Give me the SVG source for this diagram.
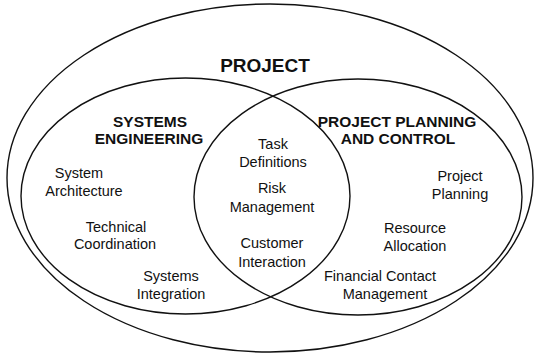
<svg xmlns="http://www.w3.org/2000/svg" width="537" height="355" viewBox="0 0 537 355">
<style>
.shape{fill:none;stroke:#111;stroke-width:1.4}
.h{font-family:"Liberation Sans",Arial,sans-serif;font-weight:bold;font-size:15.5px;fill:#111;text-anchor:middle}
.t{font-family:"Liberation Sans",Arial,sans-serif;font-size:14.5px;fill:#111;text-anchor:middle}
</style>
<rect width="537" height="355" fill="#fff"/>
<g id="project">
<ellipse class="shape" cx="270" cy="178" rx="263" ry="174" stroke-width="1.8"/>
<text class="h" x="265" y="72" style="font-size:19px">PROJECT</text>
</g>
<g id="systems-engineering">
<ellipse class="shape" cx="185.5" cy="196" rx="164.5" ry="118"/>
<text class="h" x="150" y="127">SYSTEMS</text>
<text class="h" x="149" y="144">ENGINEERING</text>
<text class="t" x="79" y="178">System</text>
<text class="t" x="84" y="196">Architecture</text>
<text class="t" x="116" y="232">Technical</text>
<text class="t" x="115" y="249">Coordination</text>
<text class="t" x="171" y="281">Systems</text>
<text class="t" x="171" y="299">Integration</text>
</g>
<g id="project-planning">
<ellipse class="shape" cx="358" cy="197" rx="164" ry="118"/>
<text class="h" x="397" y="127">PROJECT PLANNING</text>
<text class="h" x="398" y="144">AND CONTROL</text>
<text class="t" x="460" y="181">Project</text>
<text class="t" x="460" y="199">Planning</text>
<text class="t" x="415" y="233">Resource</text>
<text class="t" x="415" y="251">Allocation</text>
<text class="t" x="380" y="281">Financial Contact</text>
<text class="t" x="385" y="299">Management</text>
</g>
<g id="overlap">
<text class="t" x="273" y="149">Task</text>
<text class="t" x="273" y="167">Definitions</text>
<text class="t" x="272" y="193">Risk</text>
<text class="t" x="272" y="212">Management</text>
<text class="t" x="272" y="248">Customer</text>
<text class="t" x="272" y="267">Interaction</text>
</g>
<g id="connectors"></g>
</svg>
